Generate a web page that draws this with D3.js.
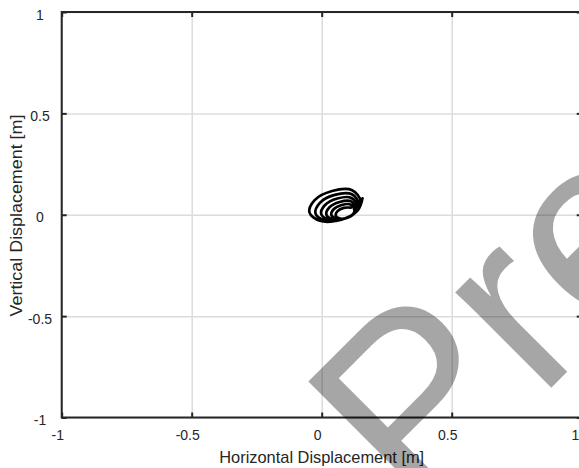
<!DOCTYPE html>
<html>
<head>
<meta charset="utf-8">
<script src="https://cdn.jsdelivr.net/npm/d3@7/dist/d3.min.js"></script>
<style>
  html, body { margin: 0; padding: 0; background: #fff; }
  svg { display: block; }
  text { font-family: "Liberation Sans", Arial, Helvetica, sans-serif; }
</style>
</head>
<body>
<svg id="chart" width="579" height="468"></svg>
<script>
// Trajectory of the tip, in metres (one row of 8 samples per orbit)
const horizontal = [
  0.157, 0.138, 0.070, -0.007, -0.047, -0.028, 0.040, 0.117,
  0.150, 0.133, 0.076, 0.011, -0.024, -0.007, 0.050, 0.116,
  0.143, 0.129, 0.081, 0.027, -0.002, 0.012, 0.060, 0.114,
  0.137, 0.126, 0.086, 0.042, 0.018, 0.030, 0.069, 0.113,
  0.131, 0.122, 0.091, 0.056, 0.037, 0.046, 0.077, 0.112,
  0.126, 0.119, 0.095, 0.068, 0.054, 0.061, 0.085, 0.112
];
const vertical = [
  0.081, 0.020, -0.026, -0.030, 0.011, 0.071, 0.117, 0.121,
  0.067, 0.015, -0.024, -0.027, 0.007, 0.059, 0.098, 0.101,
  0.054, 0.011, -0.022, -0.024, 0.004, 0.047, 0.080, 0.083,
  0.042, 0.007, -0.020, -0.022, 0.001, 0.037, 0.063, 0.066,
  0.031, 0.003, -0.018, -0.020, -0.001, 0.027, 0.048, 0.050,
  0.021, 0.000, -0.016, -0.018, -0.004, 0.018, 0.034, 0.035
];

const xTicks = [-1, -0.5, 0, 0.5, 1];
const yTicks = [-1, -0.5, 0, 0.5, 1];
const xTickLabels = ["-1", "-0.5", "0", "0.5", "1"];
const yTickLabels = ["-1", "-0.5", "0", "0.5", "1"];
const xTitle = "Horizontal Displacement [m]";
const yTitle = "Vertical Displacement [m]";
const watermark = "Preview";

const svg = d3.select("#chart");
const W = 579, H = 468;
const plotL = 61.7, plotR = 581.7, plotT = 12, plotB = 417.5;
const ink = "#262626";

const x = d3.scaleLinear().domain([-1, 1]).range([plotL, plotR]);
const y = d3.scaleLinear().domain([-1, 1]).range([plotB, plotT]);

svg.append("rect").attr("width", W).attr("height", H).attr("fill", "#fff");

// grid
const grid = svg.append("g");
grid.append("g")
  .attr("transform", `translate(0,${plotB})`)
  .call(d3.axisBottom(x).tickValues(xTicks).tickSize(-(plotB - plotT)).tickFormat(""))
  .call(g => g.select(".domain").remove())
  .call(g => g.selectAll(".tick line").attr("stroke", "#dcdcdc").attr("stroke-width", 1.5));
grid.append("g")
  .attr("transform", `translate(${plotL},0)`)
  .call(d3.axisLeft(y).tickValues(yTicks).tickSize(-(plotR - plotL)).tickFormat(""))
  .call(g => g.select(".domain").remove())
  .call(g => g.selectAll(".tick line").attr("stroke", "#dcdcdc").attr("stroke-width", 1.5));

// trajectory
const pts = horizontal.map((h, i) => [h, vertical[i]]);
svg.append("path")
  .datum(pts)
  .attr("fill", "none")
  .attr("stroke", "#000")
  .attr("stroke-width", 2.7)
  .attr("stroke-linejoin", "round")
  .attr("stroke-linecap", "round")
  .attr("d", d3.line().x(d => x(d[0])).y(d => y(d[1])).curve(d3.curveCatmullRom.alpha(0.5)));

// axes box with inward ticks
function styleAxis(g) {
  g.select(".domain").remove();
  g.selectAll(".tick line").attr("stroke", ink).attr("stroke-width", 2);
}
svg.append("g").attr("transform", `translate(0,${plotB})`)
  .call(d3.axisBottom(x).tickValues(xTicks).tickSize(-5).tickFormat(""))
  .call(styleAxis);
svg.append("g").attr("transform", `translate(0,${plotT})`)
  .call(d3.axisTop(x).tickValues(xTicks).tickSize(-5).tickFormat(""))
  .call(styleAxis);
svg.append("g").attr("transform", `translate(${plotL},0)`)
  .call(d3.axisLeft(y).tickValues(yTicks).tickSize(-5).tickFormat(""))
  .call(styleAxis);
svg.append("g").attr("transform", `translate(${plotR},0)`)
  .call(d3.axisRight(y).tickValues(yTicks).tickSize(-5).tickFormat(""))
  .call(styleAxis);

svg.append("rect")
  .attr("x", plotL).attr("y", plotT)
  .attr("width", plotR - plotL).attr("height", plotB - plotT)
  .attr("fill", "none").attr("stroke", ink).attr("stroke-width", 2);

// tick labels (the last x label is kept inside the window)
svg.append("g").selectAll("text").data(xTicks).join("text")
  .attr("x", d => Math.min(x(d) - 4, W - 3.5)).attr("y", plotB + 22.5)
  .attr("text-anchor", "middle").attr("font-size", 14).attr("fill", ink)
  .text((d, i) => xTickLabels[i]);
svg.append("g").selectAll("text").data(yTicks).join("text")
  .attr("x", 40).attr("y", d => y(d) + 7.5)
  .attr("text-anchor", "middle").attr("font-size", 14).attr("fill", ink)
  .text((d, i) => yTickLabels[i]);

// axis titles
svg.append("text")
  .attr("transform", `translate(${(plotL + plotR) / 2},463) scale(1.025,1)`)
  .attr("text-anchor", "middle").attr("font-size", 16).attr("fill", ink)
  .text(xTitle);
svg.append("text")
  .attr("transform", `translate(21.5,215.5) rotate(-90) scale(1.12,1)`)
  .attr("text-anchor", "middle").attr("font-size", 16).attr("fill", ink)
  .text(yTitle);

// watermark
svg.append("text")
  .attr("transform", "translate(418,521) rotate(-45)")
  .attr("font-size", 256)
  .attr("fill", "#000").attr("fill-opacity", 0.35)
  .text(watermark);
</script>
</body>
</html>
